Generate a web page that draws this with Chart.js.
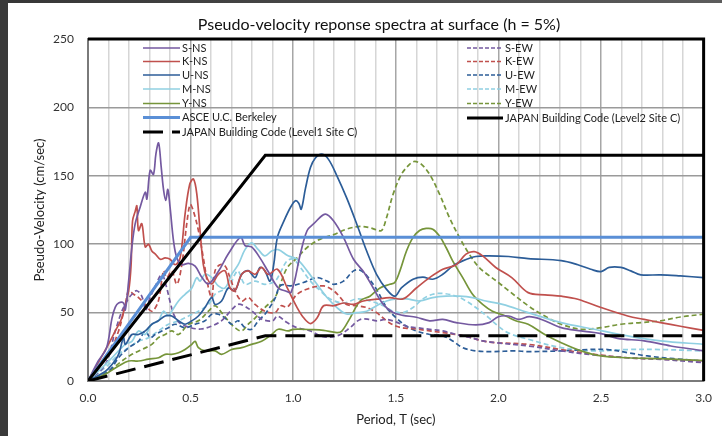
<!DOCTYPE html>
<html>
<head>
<meta charset="utf-8">
<script src="https://cdn.jsdelivr.net/npm/chart.js@4.4.1/dist/chart.umd.min.js"></script>
<style>
  html, body { margin: 0; padding: 0; background: #fff; }
  #wrap { position: relative; width: 722px; height: 436px; }
</style>
</head>
<body>
<div id="wrap"><canvas id="chart" width="722" height="436"></canvas></div>
<script>
// Period T (sec), pseudo-velocity (cm/sec) pairs
const S_NS = [[0,0],[0.05,14.6],[0.09,24],[0.117,46],[0.133,54],[0.149,57],[0.173,57],[0.182,52],[0.198,73],[0.214,98],[0.23,115],[0.254,127],[0.279,138],[0.287,133],[0.303,154],[0.319,151],[0.331,166],[0.344,174],[0.357,156],[0.368,140],[0.379,132],[0.389,140],[0.4,127],[0.417,102],[0.433,90],[0.457,85],[0.489,86],[0.522,84],[0.554,76],[0.587,71],[0.635,80],[0.684,93],[0.744,105],[0.765,99],[0.797,98],[0.838,90],[0.878,80],[0.927,68],[0.959,66],[0.99,65],[1.035,93],[1.068,110],[1.1,115],[1.156,122],[1.197,117],[1.245,105],[1.294,89],[1.342,80],[1.39,68],[1.439,56],[1.487,50],[1.535,48],[1.6,46.6],[1.665,44],[1.729,45],[1.794,42.7],[1.89,41],[1.955,42.7],[2.0,47],[2.05,47.5],[2.1,45],[2.15,47],[2.21,45],[2.306,39],[2.403,36.6],[2.5,34.6],[2.58,31.2],[2.71,29.3],[2.84,25.6],[2.95,23.2],[3.0,22]]
const K_NS = [[0,0],[0.1,27],[0.133,36.6],[0.165,46],[0.198,66],[0.21,85],[0.217,117],[0.23,124],[0.238,128],[0.246,110],[0.262,115],[0.279,98],[0.295,100],[0.311,95],[0.327,93],[0.352,89],[0.376,90],[0.4,89],[0.425,85],[0.449,90],[0.473,122],[0.496,144],[0.514,147.6],[0.53,137],[0.546,110],[0.562,85],[0.578,76],[0.603,71],[0.635,78],[0.668,80.5],[0.692,68],[0.716,66],[0.749,78],[0.781,80.5],[0.814,78],[0.846,83],[0.878,78],[0.923,81.7],[0.971,68],[1.019,53.7],[1.052,46],[1.084,42],[1.116,46],[1.148,55],[1.197,55],[1.245,57],[1.294,56],[1.342,58.5],[1.406,59.8],[1.471,61],[1.535,60],[1.6,68],[1.665,75.6],[1.729,81.7],[1.794,85],[1.842,92.7],[1.882,94.6],[1.923,91.5],[1.987,83],[2.065,75.6],[2.145,64.6],[2.226,63],[2.306,62],[2.387,59.8],[2.5,53.7],[2.63,47.5],[2.71,45],[2.79,42.7],[2.887,40],[3.0,37]]
const U_NS = [[0,0],[0.084,7],[0.117,12],[0.149,19.5],[0.173,31.7],[0.182,26.8],[0.214,34],[0.246,34],[0.279,36.6],[0.311,41.5],[0.343,44],[0.376,47.5],[0.408,47.5],[0.441,44],[0.473,41.5],[0.506,44],[0.538,47.5],[0.57,53.7],[0.603,61],[0.619,56],[0.651,58.5],[0.684,68],[0.716,66],[0.749,78],[0.781,80.7],[0.814,75.6],[0.838,83],[0.862,80.5],[0.887,73],[0.905,85],[0.923,105],[0.955,117],[0.987,127],[1.011,131.7],[1.027,130],[1.039,125.6],[1.06,141],[1.084,156],[1.108,163],[1.14,165.8],[1.172,162],[1.213,150],[1.26,134],[1.31,114.6],[1.358,95],[1.406,78],[1.455,67],[1.495,62],[1.527,68],[1.584,74.4],[1.632,76],[1.68,74.4],[1.729,78],[1.777,84],[1.826,87.8],[1.89,91],[1.955,91.5],[2.05,91],[2.145,89.5],[2.306,88],[2.387,85],[2.45,81.7],[2.5,80],[2.54,83],[2.597,83],[2.645,80.5],[2.694,77.6],[2.79,77.6],[2.887,76.8],[3.0,75.6]]
const M_NS = [[0,0],[0.084,12],[0.117,17],[0.149,22],[0.182,26.8],[0.214,29],[0.246,36.6],[0.279,34],[0.311,41.5],[0.343,44],[0.368,51],[0.392,47.5],[0.408,51],[0.441,58.5],[0.473,63.4],[0.506,68],[0.53,75.6],[0.546,73],[0.57,78],[0.603,75.6],[0.635,69.5],[0.668,68],[0.7,78],[0.732,85],[0.765,96],[0.797,101],[0.83,96],[0.862,91.5],[0.895,95],[0.927,96],[0.975,91.5],[1.019,89],[1.068,80.5],[1.116,70.7],[1.165,61],[1.213,53.7],[1.26,49],[1.31,50],[1.358,51],[1.406,55],[1.455,58.5],[1.503,60],[1.552,60],[1.616,58.5],[1.68,61],[1.745,62],[1.81,62],[1.874,61],[1.939,58.5],[2.02,56],[2.145,50],[2.306,42.7],[2.468,37.8],[2.63,33],[2.79,29.3],[3.0,26.8]]
const Y_NS = [[0,0],[0.084,5],[0.149,11],[0.198,14.6],[0.246,14.6],[0.295,16],[0.344,17],[0.376,19.5],[0.408,19.5],[0.441,20.7],[0.473,23],[0.506,26.8],[0.522,29],[0.538,24.4],[0.57,22],[0.619,22],[0.651,19.5],[0.7,23],[0.749,24.4],[0.797,26.8],[0.846,29],[0.895,34],[0.927,37.8],[0.975,36.6],[1.0,37.8],[1.1,37.5],[1.148,37],[1.213,35.4],[1.237,36.5],[1.277,46],[1.326,58.5],[1.374,62],[1.423,68],[1.471,70.7],[1.495,72],[1.52,80.5],[1.552,95],[1.584,105],[1.616,110],[1.648,111.5],[1.68,111],[1.713,106],[1.745,97.6],[1.777,87.8],[1.826,75.6],[1.874,63.4],[1.923,56],[1.971,51],[2.035,47.5],[2.084,44],[2.145,41.5],[2.226,34],[2.306,28],[2.403,22],[2.5,18.3],[2.63,17],[2.79,16.3],[3.0,15]]
const S_EW = [[0,0],[0.084,12],[0.133,36.6],[0.165,51],[0.19,58.5],[0.214,63.4],[0.238,66],[0.262,62],[0.282,52],[0.3,60],[0.33,70],[0.36,78],[0.38,70],[0.4,58],[0.42,48],[0.45,42],[0.5,39],[0.55,38],[0.6,40],[0.65,44],[0.7,52],[0.73,56],[0.76,55],[0.8,51],[0.85,45],[0.9,44],[0.923,47.5],[0.97,42.7],[1.019,39],[1.084,36.6],[1.132,33],[1.18,32],[1.23,34],[1.277,39],[1.326,45],[1.374,45],[1.406,44],[1.455,45],[1.503,43],[1.552,40],[1.6,39],[1.665,37.8],[1.729,36.6],[1.794,34],[1.858,32],[1.923,29.3],[1.987,28],[2.145,25.6],[2.306,22],[2.468,19],[2.63,17],[2.79,15.8],[3.0,13.4]]
const K_EW = [[0,0],[0.1,19.5],[0.149,36.6],[0.182,56],[0.198,66],[0.222,63.4],[0.246,61],[0.279,56],[0.311,51],[0.343,58.5],[0.368,80.5],[0.384,75.6],[0.408,80.5],[0.433,70.7],[0.457,85],[0.481,114.6],[0.498,129],[0.514,124],[0.538,110],[0.562,90],[0.587,68],[0.603,61],[0.619,80.5],[0.643,85],[0.668,84],[0.692,75.6],[0.716,66],[0.749,58.5],[0.781,61],[0.814,56],[0.862,51],[0.911,50],[0.94,55],[0.971,54],[1.019,63.4],[1.084,68],[1.148,69.5],[1.197,66],[1.23,61],[1.26,56],[1.31,55],[1.358,53.7],[1.406,50],[1.455,44],[1.503,40],[1.552,38.5],[1.6,38],[1.665,36.6],[1.729,35.4],[1.794,34],[1.858,32],[1.923,29.3],[1.987,28],[2.145,26.8],[2.306,23],[2.468,19.5],[2.63,17],[2.79,16],[3.0,14.6]]
const U_EW = [[0,0],[0.1,7],[0.149,17],[0.198,24.4],[0.246,29],[0.279,36.6],[0.303,31.7],[0.327,34],[0.36,36.6],[0.392,39],[0.425,41.5],[0.473,39],[0.522,41.5],[0.57,44],[0.603,48.8],[0.635,48.8],[0.668,46],[0.7,41.5],[0.732,44],[0.765,39],[0.797,37.8],[0.83,44],[0.862,48.8],[0.895,56],[0.91,60],[0.94,70],[0.987,69.5],[1.05,72],[1.116,75.6],[1.165,73],[1.197,70.7],[1.245,73],[1.294,80.5],[1.326,81],[1.358,77],[1.406,67],[1.455,53.7],[1.503,46],[1.552,40],[1.6,36.6],[1.665,34],[1.729,33],[1.777,29.3],[1.826,24.4],[1.89,22],[1.971,21.5],[2.08,22],[2.145,21.5],[2.306,22],[2.435,23],[2.532,23],[2.63,20.7],[2.726,18.3],[2.855,16.3],[3.0,14.6]]
const M_EW = [[0,0],[0.1,12],[0.149,19.5],[0.198,24.4],[0.246,29],[0.295,31.7],[0.343,36.6],[0.392,41.5],[0.441,44],[0.49,47.5],[0.538,51],[0.587,56],[0.619,63.4],[0.651,66],[0.684,68],[0.716,78],[0.732,80.5],[0.765,70.7],[0.814,73],[0.862,70.7],[0.911,73],[0.94,80],[0.97,87.8],[1.0,89],[1.035,83],[1.084,73],[1.132,66],[1.18,60],[1.245,57],[1.31,60],[1.374,58.5],[1.439,55],[1.487,51],[1.535,50],[1.584,53.7],[1.632,60],[1.68,63.4],[1.729,64],[1.794,62],[1.842,58.5],[1.89,53.7],[1.955,46],[2.0,40],[2.05,35],[2.145,30.5],[2.306,24.4],[2.468,22],[2.63,23],[2.79,23],[3.0,22]]
const Y_EW = [[0,0],[0.1,7],[0.165,14.6],[0.214,19.5],[0.263,23],[0.311,26.8],[0.343,31.7],[0.376,34],[0.408,36.6],[0.441,34],[0.49,41.5],[0.538,44],[0.587,51],[0.619,55],[0.651,50],[0.684,44],[0.716,39],[0.749,36.6],[0.781,41.5],[0.814,46],[0.862,53.7],[0.911,61],[0.94,72],[0.972,83],[1.019,90],[1.068,97.6],[1.132,103.7],[1.197,107],[1.26,111],[1.326,113],[1.374,112],[1.406,110.5],[1.431,110],[1.455,119.5],[1.487,136.6],[1.527,151],[1.568,158.5],[1.592,160.5],[1.624,158.5],[1.665,151],[1.713,136.6],[1.761,119.5],[1.81,105],[1.858,92.7],[1.906,83],[1.955,77],[2.0,72],[2.05,66],[2.145,55],[2.226,47.5],[2.306,41.5],[2.403,37.8],[2.5,39],[2.597,41.5],[2.694,42.7],[2.79,44],[2.887,46.8],[3.0,48.8]]

// design spectra
const ASCE = [[0,0],[0.5,105],[3.0,105]]
const JAPAN_L1 = [[0,0],[0.864,33],[3.0,33]]
const JAPAN_L2 = [[0,0],[0.864,165],[3.0,165]]

const TITLE = 'Pseudo-velocity reponse spectra at surface (h = 5%)'
const FONT = 'Lato, "Open Sans", sans-serif'

const COLORS = {
  S: '#7459a0', K: '#c0504d', U: '#2c5d98', M: '#90d0e2', Y: '#76953a',
  ASCE: '#5a8fd6', JP: '#000000'
}

function series(label, pts, color, opts = {}) {
  return Object.assign({
    label,
    data: pts.map(p => ({x: p[0], y: p[1]})),
    borderColor: color,
    backgroundColor: color,
    borderWidth: 1.7,
    pointRadius: 0,
    tension: 0.35,
    fill: false
  }, opts)
}

const EW = {borderDash: [5, 3]}

// first dataset ends up on top
const datasets = [
  series('JAPAN Building Code (Level2 Site C)', JAPAN_L2, COLORS.JP, {borderWidth: 3, tension: 0}),
  series('JAPAN Building Code (Level1 Site C)', JAPAN_L1, COLORS.JP, {borderWidth: 3, tension: 0, borderDash: [20, 9]}),
  series('ASCE U.C. Berkeley', ASCE, COLORS.ASCE, {borderWidth: 3, tension: 0}),
  series('S-NS', S_NS, COLORS.S),
  series('K-NS', K_NS, COLORS.K),
  series('U-NS', U_NS, COLORS.U),
  series('M-NS', M_NS, COLORS.M),
  series('Y-NS', Y_NS, COLORS.Y),
  series('S-EW', S_EW, COLORS.S, EW),
  series('K-EW', K_EW, COLORS.K, EW),
  series('U-EW', U_EW, COLORS.U, EW),
  series('M-EW', M_EW, COLORS.M, EW),
  series('Y-EW', Y_EW, COLORS.Y, EW)
]

// legend layout inside the plot: two columns
const legendLeft = ['S-NS', 'K-NS', 'U-NS', 'M-NS', 'Y-NS', 'ASCE U.C. Berkeley', 'JAPAN Building Code (Level1 Site C)']
const legendRight = ['S-EW', 'K-EW', 'U-EW', 'M-EW', 'Y-EW', 'JAPAN Building Code (Level2 Site C)']

function drawLegendColumn(chart, labels, x0, x1, rows) {
  const ctx = chart.ctx
  labels.forEach((label, i) => {
    const ds = chart.data.datasets.find(d => d.label === label)
    const y = rows[i]
    ctx.save()
    ctx.strokeStyle = ds.borderColor
    ctx.lineWidth = ds.borderWidth
    ctx.setLineDash(ds.borderDash === EW.borderDash ? [4, 2] : (ds.borderDash || []))
    ctx.beginPath()
    ctx.moveTo(x0, y)
    ctx.lineTo(x1, y)
    ctx.stroke()
    ctx.setLineDash([])
    ctx.fillStyle = '#222'
    ctx.font = '11px ' + FONT
    ctx.textAlign = 'left'
    ctx.textBaseline = 'middle'
    ctx.fillText(label, x1 + 2, y)
    ctx.restore()
  })
}

const framePlugin = {
  id: 'frame',
  beforeDraw(chart) {
    const {ctx, width, height} = chart
    ctx.save()
    ctx.fillStyle = '#fff'
    ctx.fillRect(0, 0, width, height)
    const g = ctx.createLinearGradient(0, 0, width, 0)
    g.addColorStop(0, '#363636')
    g.addColorStop(1, '#5c5c5c')
    ctx.fillStyle = g
    ctx.fillRect(0, 0, width, 3)
    ctx.fillStyle = '#3a3a3a'
    ctx.fillRect(0, 0, 8, height)
    ctx.restore()
  },
  afterDraw(chart) {
    const {ctx, chartArea: a} = chart
    ctx.save()
    ctx.strokeStyle = '#000'
    ctx.lineWidth = 3
    ctx.beginPath()
    ctx.moveTo(a.left, a.top)
    ctx.lineTo(a.right, a.top)
    ctx.lineTo(a.right, a.bottom)
    ctx.stroke()
    ctx.fillStyle = '#111'
    ctx.font = '16px ' + FONT
    ctx.textAlign = 'center'
    ctx.textBaseline = 'middle'
    ctx.fillText(TITLE, 379, 25)
    ctx.restore()
    drawLegendColumn(chart, legendLeft, 143, 180, [48, 61.5, 75, 89, 103.5, 117.5, 132])
    drawLegendColumn(chart, legendRight, 467, 503, [48, 61.5, 75, 89, 103.5, 118])
  }
}

Chart.defaults.font.family = FONT

new Chart(document.getElementById('chart'), {
  type: 'line',
  data: { datasets },
  options: {
    responsive: false,
    animation: false,
    layout: { padding: { left: 0, right: 12, top: 39, bottom: 0 } },
    plugins: {
      legend: { display: false },
      tooltip: { enabled: false }
    },
    scales: {
      x: {
        type: 'linear',
        min: 0,
        max: 3,
        afterFit: s => { s.height = 55 },
        ticks: {
          stepSize: 0.1,
          autoSkip: false,
          maxRotation: 0,
          padding: 10,
          color: '#333',
          font: { size: 12 },
          callback: v => {
            const half = v * 2
            return Math.abs(half - Math.round(half)) < 1e-6 ? v.toFixed(1) : ''
          }
        },
        grid: {
          drawTicks: false,
          color: c => {
            const half = c.tick.value * 2
            return Math.abs(half - Math.round(half)) < 1e-6 ? '#a6a6a6' : '#d6d6d6'
          },
          lineWidth: 1.5
        },
        border: { color: '#7a7a7a', width: 2 },
        title: {
          display: true,
          text: 'Period, T (sec)',
          color: '#222',
          font: { size: 13 },
          padding: { top: 0, bottom: 8 }
        }
      },
      y: {
        min: 0,
        max: 250,
        afterFit: s => { s.width = 88 },
        ticks: {
          stepSize: 50,
          padding: 14,
          color: '#333',
          font: { size: 12 }
        },
        grid: { drawTicks: false, color: '#9a9a9a', lineWidth: 1.5 },
        border: { color: '#7a7a7a', width: 2 },
        title: {
          display: true,
          text: 'Pseudo-Velocity (cm/sec)',
          color: '#222',
          font: { size: 13 },
          padding: { top: 32, bottom: 0 }
        }
      }
    }
  },
  plugins: [framePlugin]
})
</script>
</body>
</html>
